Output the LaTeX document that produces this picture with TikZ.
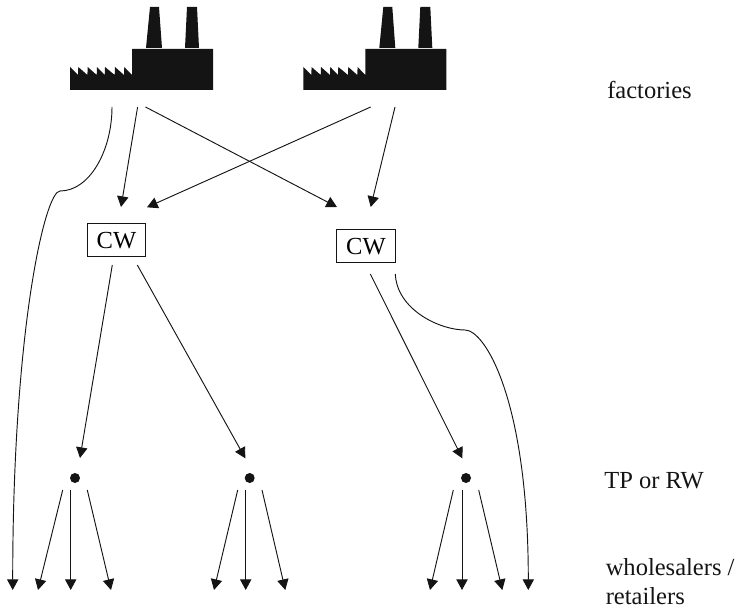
\documentclass[tikz,border=0pt]{standalone}
\usepackage{fontspec}
\setmainfont{Liberation Serif}
\usetikzlibrary{arrows.meta}
\definecolor{ink}{gray}{0.08}

\begin{document}
\begin{tikzpicture}[
        x=0.75pt, y=-0.75pt,
        >={Triangle[length=8pt, width=8.5pt]},
        w/.style={rectangle, draw=ink, line width=0.7pt, minimum width=43.8pt, minimum height=24.8pt, inner sep=0pt, font=\fontsize{18.4}{23}\selectfont},
        t/.style={circle, fill=ink, minimum size=7.5pt, inner sep=0pt},
        e/.style={->, ink, line width=0.7pt},
        lab/.style={anchor=base west, inner sep=0pt, text=ink, align=left, font=\fontsize{18.4}{23.2}\selectfont},
        factory/.pic={
            \fill[ink] (0,90) -- (0,67) -- (8,75) -- (8.3,67) -- (17.4,75) -- (17.7,67) -- (26.7,75) -- (27,67) -- (34.7,75)
                -- (35,67) -- (44.7,75) -- (45,67) -- (54,75) -- (54.3,67) -- (62,75) -- (62,49) -- (143,49) -- (143,90) -- cycle;
            \fill[ink] (76,48) -- (80,7) -- (89,7) -- (92,48) -- cycle;
            \fill[ink] (115,48) -- (117,7) -- (127,7) -- (129,48) -- cycle;
        }
    ]
        \useasboundingbox (0,0) rectangle (739,609);

        % factories
        \pic (f1) at (70,0) {factory};
        \pic (f2) at (303.3,0) {factory};

        % central warehouses and transit points
        \node[w] (cw1) at (116.5,240.4) {CW};
        \node[w] (cw2) at (366,246.2) {CW};
        \node[t] (t1) at (75,478) {};
        \node[t] (t2) at (249.7,478) {};
        \node[t] (t3) at (466,478) {};

        % free ends below the factories
        \coordinate (a1) at (112,107);
        \coordinate (a2) at (137.6,107);
        \coordinate (a3) at (145.5,107);
        \coordinate (a4) at (370.7,107);
        \coordinate (a5) at (395,107);
        \coordinate (b1) at (121,207);
        \coordinate (b2) at (147,207.3);
        \coordinate (b3) at (337,207);
        \coordinate (b4) at (370.7,207);

        % free ends below the warehouses
        \coordinate (c1) at (112.3,265);
        \coordinate (c2) at (137.3,265);
        \coordinate (c3) at (370.3,274);
        \coordinate (c4) at (395.3,274);
        \coordinate (d1) at (80,458);
        \coordinate (d2) at (245.3,458.3);
        \coordinate (d3) at (462.3,458.3);

        % free ends of the three fans
        \coordinate (g1) at (62.7,490);
        \coordinate (g2) at (70.7,490);
        \coordinate (g3) at (87.3,490);
        \coordinate (g4) at (237.7,490);
        \coordinate (g5) at (245.7,490);
        \coordinate (g6) at (262,490);
        \coordinate (g7) at (453.3,490);
        \coordinate (g8) at (462,490);
        \coordinate (g9) at (478.7,490);
        \coordinate (h0) at (12.7,590);
        \coordinate (h1) at (38,590);
        \coordinate (h2) at (70.7,590);
        \coordinate (h3) at (111,590);
        \coordinate (h4) at (214,590);
        \coordinate (h5) at (245.7,590);
        \coordinate (h6) at (285.3,590);
        \coordinate (h7) at (430,590);
        \coordinate (h8) at (462,590);
        \coordinate (h9) at (502.3,590);
        \coordinate (h10) at (528.3,590);

        % factory to warehouse
        \draw[e] (a2)--(b1);
        \draw[e] (a3)--(b3);
        \draw[e] (a4)--(b2);
        \draw[e] (a5)--(b4);

        % warehouse to transit point
        \draw[e] (c1)--(d1);
        \draw[e] (c2)--(d2);
        \draw[e] (c3)--(d3);

        % transit point to customers
        \draw[e] (g1)--(h1);
        \draw[e] (g2)--(h2);
        \draw[e] (g3)--(h3);
        \draw[e] (g4)--(h4);
        \draw[e] (g5)--(h5);
        \draw[e] (g6)--(h6);
        \draw[e] (g7)--(h7);
        \draw[e] (g8)--(h8);
        \draw[e] (g9)--(h9);

        % direct deliveries
        \draw[e] (a1) .. controls (112,150) and (90,191) .. (60,191) .. controls (45,191) and (12.7,330) .. (h0);
        \draw[e] (c4) .. controls (397,310) and (440,330) .. (465,330) .. controls (485,330) and (528.3,400) .. (h10);

        \node[lab] (l1) at (607,98.5) {factories};
        \node[lab] (l2) at (604,488.5) {TP or RW};
        \node[lab, anchor=north west] (l3) at (605.5,558) {wholesalers /\\[-1pt]retailers};
    \end{tikzpicture}
\end{document}
